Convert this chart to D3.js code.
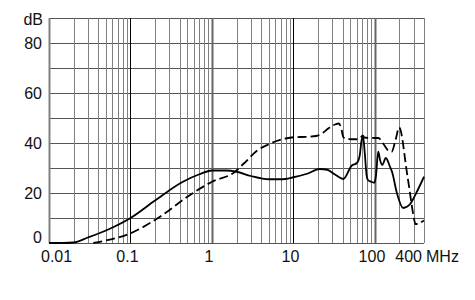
<!DOCTYPE html>
<html>
<head>
<meta charset="utf-8">
<script src="https://cdn.jsdelivr.net/npm/d3@7"></script>
<style>
  body { margin: 0; background: #fff; }
  text { font-family: "Liberation Sans", Arial, sans-serif; font-size: 16px; fill: #111; }
</style>
</head>
<body>
<svg id="chart" width="475" height="300"></svg>
<script>
// frequency in MHz, attenuation in dB
var solidFreq = [0.01, 0.015, 0.02, 0.03, 0.05, 0.1, 0.2, 0.44, 0.7, 1, 1.5, 2, 3, 5, 7, 10, 15, 21, 26, 32, 41,
  52, 60, 65, 68.5, 71.5, 75, 79, 82, 90, 98, 103, 109.7, 116, 123, 136, 153, 162, 186, 222, 269, 327, 400];
var solidDb = [0, 0, 0.2, 2.2, 5, 10, 17, 24.5, 27.5, 29, 29, 28.5, 26.8, 25.5, 25.5, 26.3, 27.8, 29.6, 29.3, 27.5, 25.6,
  31, 32, 35, 41, 42.6, 36, 27, 25.2, 24.5, 24.1, 27, 36.5, 33, 31.2, 34, 30.5, 28.5, 20, 14, 15.5, 20.5, 26.5];

var dashFreq = [0.035, 0.05, 0.1, 0.23, 0.5, 1, 1.9, 2.5, 3.6, 5, 6.2, 8, 10, 15, 19, 23, 27, 33, 36, 38.5, 41, 45,
  60, 66, 71, 74, 100, 110, 128, 145, 160, 180, 198, 250, 305, 312, 337, 390, 400];
var dashDb = [0, 1, 3.9, 10.5, 18.5, 24.5, 28.4, 32, 37, 39.5, 40.8, 41.8, 42.3, 42.5, 42.8, 44.1, 45.9, 47.5, 47.8, 46, 42.3, 41.6,
  41.5, 42, 43, 42.2, 42, 42, 39.5, 37, 36.5, 41.5, 46.2, 27, 9, 7.6, 7.6, 8.8, 9];

var xTickValues = [0.01, 0.1, 1, 10, 100, 400];
var xTickLabels = ["0.01", "0.1", "1", "10", "100", "400"];
var yTickValues = [0, 20, 40, 60, 80];

var svg = d3.select("#chart");
var x = d3.scaleLog().domain([0.01, 400]).range([49, 424]);
var y = d3.scaleLinear().domain([0, 90]).range([243, 18]);

var grid = svg.append("g").attr("class", "grid");
// horizontal grid every 10 dB
grid.selectAll("line.h").data(y.ticks(9)).enter().append("line")
  .attr("class", "h")
  .attr("x1", x.range()[0]).attr("x2", x.range()[1])
  .attr("y1", function(d){ return Math.round(y(d)) + 0.5; })
  .attr("y2", function(d){ return Math.round(y(d)) + 0.5; })
  .attr("stroke", "#555").attr("stroke-width", 1);

// vertical log grid
grid.selectAll("line.v").data(x.ticks()).enter().append("line")
  .attr("class", "v")
  .attr("x1", function(d){ return Math.round(x(d)) + 0.5; })
  .attr("x2", function(d){ return Math.round(x(d)) + 0.5; })
  .attr("y1", y(90)).attr("y2", y(0))
  .attr("stroke", function(d){
    var e = Math.log10(d);
    if (Math.abs(e + 1) < 1e-6 || Math.abs(e - 1) < 1e-6) return "#000";
    if (Math.abs(e) < 1e-6 || Math.abs(e - 2) < 1e-6) return "#666";
    return "#808080";
  })
  .attr("stroke-width", function(d){
    var e = Math.log10(d);
    if (Math.abs(e) < 1e-6 || Math.abs(e - 2) < 1e-6 || Math.abs(e + 2) < 1e-6) return 2;
    return 1;
  });

var line = d3.line()
  .x(function(d){ return x(d[0]); })
  .y(function(d){ return y(d[1]); })
  .curve(d3.curveMonotoneX);

svg.append("path")
  .datum(d3.zip(solidFreq, solidDb))
  .attr("d", line)
  .attr("fill", "none").attr("stroke", "#000").attr("stroke-width", 1.8);

svg.append("path")
  .datum(d3.zip(dashFreq, dashDb))
  .attr("d", line)
  .attr("fill", "none").attr("stroke", "#000").attr("stroke-width", 1.8)
  .attr("stroke-dasharray", "9,4");

// y labels
svg.selectAll("text.y").data(yTickValues).enter().append("text")
  .attr("class", "y")
  .attr("x", 42)
  .attr("y", function(d){ return d === 0 ? y(d) : y(d); })
  .attr("dy", function(d){ return d === 0 ? "0em" : "0.35em"; })
  .attr("text-anchor", "end")
  .text(function(d){ return d; });
svg.append("text").attr("x", 43).attr("y", 25).attr("text-anchor", "end").text("dB");

// x labels
svg.selectAll("text.x").data(xTickValues).enter().append("text")
  .attr("class", "x")
  .attr("x", function(d, i){
    if (i === 0) return 41;
    if (i === xTickValues.length - 1) return x(d) - 2;
    return x(d) - 3;
  })
  .attr("y", 262)
  .attr("text-anchor", function(d, i){
    if (i === 0) return "start";
    if (i === xTickValues.length - 1) return "end";
    return "middle";
  })
  .text(function(d, i){ return xTickLabels[i]; });
svg.append("text").attr("x", x(400) + 2).attr("y", 262).text("MHz");
</script>
</body>
</html>
